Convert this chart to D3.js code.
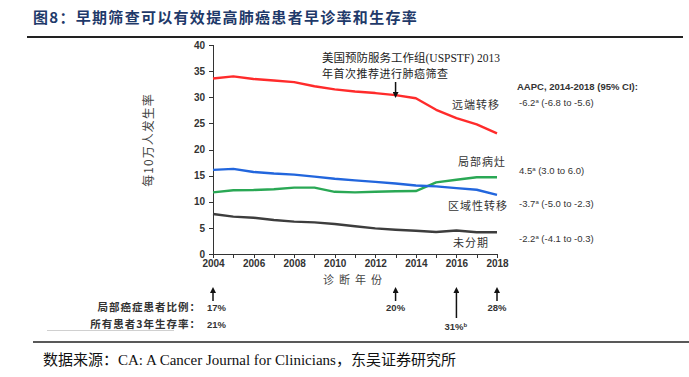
<!DOCTYPE html>
<html lang="zh">

<head>
    <meta charset="UTF-8">
    <title>早期筛查可以有效提高肺癌患者早诊率和生存率</title>
    <style>
        body {
            margin: 0;
            background: #fff;
        }

        svg {
            width: 689px;
            height: 377px;
            display: block;
        }

        .axis text {
            font-family: "Liberation Sans", Arial, sans-serif;
            font-weight: bold;
            font-size: 10px;
            fill: #333;
        }

        .axis path,
        .axis line {
            fill: none;
            stroke: #333;
            shape-rendering: crispEdges;
        }

        .cn {
            font-family: "Noto Sans CJK SC", sans-serif;
        }

        .note {
            font-family: "Liberation Sans", Arial, sans-serif;
            font-size: 9.5px;
            fill: #333;
        }
    </style>
    <script src="https://d3js.org/d3.v7.min.js"></script>
</head>

<body>
    <div id="graph"></div>
    <script>
        // data
        const years = [2004, 2005, 2006, 2007, 2008, 2009, 2010, 2011, 2012, 2013, 2014, 2015, 2016, 2017, 2018];
        const distant = [33.6, 34.0, 33.5, 33.2, 32.9, 32.1, 31.5, 31.1, 30.8, 30.4, 29.8, 27.6, 26.0, 24.8, 23.1];
        const localized = [11.8, 12.2, 12.25, 12.4, 12.7, 12.7, 11.9, 11.8, 11.9, 12.0, 12.05, 13.7, 14.2, 14.7, 14.7];
        const regional = [16.1, 16.3, 15.7, 15.4, 15.2, 14.8, 14.4, 14.1, 13.8, 13.5, 13.1, 12.95, 12.6, 12.3, 11.3];
        const unstaged = [7.65, 7.15, 6.95, 6.5, 6.2, 6.05, 5.75, 5.3, 4.9, 4.65, 4.45, 4.2, 4.5, 4.15, 4.15];
        const yTicks = [0, 5, 10, 15, 20, 25, 30, 35, 40];
        const xTicks = [2004, 2006, 2008, 2010, 2012, 2014, 2016, 2018];
        const seriesNames = ["远端转移", "局部病灶", "区域性转移", "未分期"];
        const aapc = ["-6.2", "4.5", "-3.7", "-2.2"];
        const aapcCI = ["(-6.8 to -5.6)", "(3.0 to 6.0)", "(-5.0 to -2.3)", "(-4.1 to -0.3)"];
        const markYears = [2004, 2013, 2016, 2018];
        const localShare = ["17%", "20%", null, "28%"];
        const survival3y = ["21%", null, "31%", null];

        const width = 689;
        const height = 377;
        const margins = { top: 45, bottom: 123, left: 213, right: 192 };

        const svg = d3.select("#graph").append("svg")
            .attr("viewBox", `0 0 ${width} ${height}`);

        // title and rules
        svg.append("text")
            .attr("x", 33).attr("y", 23)
            .attr("class", "cn")
            .attr("font-size", 15).attr("font-weight", "bold")
            .attr("letter-spacing", 1.3)
            .attr("fill", "#1f3a6a")
            .text("图8：早期筛查可以有效提高肺癌患者早诊率和生存率");

        svg.append("line")
            .attr("x1", 27).attr("x2", 683).attr("y1", 37).attr("y2", 37)
            .attr("stroke", "#222").attr("stroke-width", 2);

        svg.append("line")
            .attr("x1", 33).attr("x2", 689).attr("y1", 342).attr("y2", 342)
            .attr("stroke", "#222").attr("stroke-width", 1.5);

        svg.append("text")
            .attr("x", 43).attr("y", 365)
            .attr("font-size", 15).attr("fill", "#111")
            .attr("font-family", "'Liberation Serif', 'Noto Sans CJK SC', serif")
            .text("数据来源：CA: A Cancer Journal for Clinicians，东吴证券研究所");

        const xScale = d3.scaleLinear()
            .domain([2004, 2018])
            .range([margins.left, width - margins.right]);

        const yScale = d3.scaleLinear()
            .domain([0, 40])
            .range([height - margins.bottom, margins.top]);

        const x0 = height - margins.bottom;

        svg.append("g")
            .attr("class", "axis")
            .attr("transform", `translate(0, ${x0})`)
            .call(d3.axisBottom(xScale).tickValues(years).tickSize(4).tickPadding(2)
                .tickFormat(d => xTicks.includes(d) ? d : ""));

        svg.append("g")
            .attr("class", "axis")
            .attr("transform", `translate(${margins.left}, 0)`)
            .call(d3.axisLeft(yScale).tickValues(yTicks).tickSize(4).tickPadding(4));

        // axis titles
        svg.append("text")
            .attr("class", "cn")
            .attr("transform", `translate(153, 140) rotate(-90)`)
            .attr("text-anchor", "middle")
            .attr("font-size", 12).attr("fill", "#444")
            .attr("letter-spacing", 1)
            .text("每10万人发生率");

        svg.append("text")
            .attr("class", "cn")
            .attr("x", xScale(2011)).attr("y", 284)
            .attr("text-anchor", "middle")
            .attr("font-size", 11).attr("fill", "#444")
            .attr("letter-spacing", 5)
            .text("诊断年份");

        // lines
        const lineData = [
            { values: distant, color: "#ff2b2b" },
            { values: localized, color: "#2aa855" },
            { values: regional, color: "#2266dd" },
            { values: unstaged, color: "#3d3d3d" }
        ];

        const lineGen = d3.line()
            .x((d, i) => xScale(years[i]))
            .y(d => yScale(d));

        svg.selectAll(".series")
            .data(lineData)
            .enter().append("path")
            .attr("class", "series")
            .attr("fill", "none")
            .attr("stroke", d => d.color)
            .attr("stroke-width", 2.4)
            .attr("stroke-linejoin", "round")
            .attr("d", d => lineGen(d.values));

        // series labels
        const labelPos = [
            { x: 452, y: 109 },
            { x: 458, y: 166 },
            { x: 448, y: 210 },
            { x: 453, y: 247 }
        ];
        svg.selectAll(".slabel")
            .data(seriesNames)
            .enter().append("text")
            .attr("class", "slabel cn")
            .attr("x", (d, i) => labelPos[i].x)
            .attr("y", (d, i) => labelPos[i].y)
            .attr("font-size", 11).attr("fill", "#333")
            .attr("letter-spacing", 1)
            .text(d => d);

        // USPSTF annotation
        svg.append("text")
            .attr("x", 322).attr("y", 62)
            .attr("font-size", 11.5).attr("fill", "#222")
            .attr("font-family", "'Liberation Serif', 'Noto Sans CJK SC', serif")
            .text("美国预防服务工作组(USPSTF) 2013");
        svg.append("text")
            .attr("class", "cn")
            .attr("x", 322).attr("y", 78)
            .attr("font-size", 11).attr("fill", "#222")
            .attr("letter-spacing", 0.5)
            .text("年首次推荐进行肺癌筛查");

        svg.append("defs").append("marker")
            .attr("id", "head")
            .attr("viewBox", "0 0 10 10")
            .attr("refX", 5).attr("refY", 5)
            .attr("markerWidth", 4).attr("markerHeight", 4)
            .attr("orient", "auto")
            .append("path").attr("d", "M0,0 L10,5 L0,10 z").attr("fill", "#111");

        svg.append("line")
            .attr("x1", xScale(2013)).attr("x2", xScale(2013))
            .attr("y1", 82).attr("y2", 95)
            .attr("stroke", "#111").attr("stroke-width", 1.5)
            .attr("marker-end", "url(#head)");

        // AAPC column
        svg.append("text")
            .attr("class", "note")
            .attr("x", 517).attr("y", 90)
            .attr("font-weight", "bold")
            .text("AAPC, 2014-2018 (95% CI):");

        const aapcY = [106, 174, 207, 242];
        const aapcText = svg.selectAll(".aapc")
            .data(aapc)
            .enter().append("text")
            .attr("class", "aapc note")
            .attr("x", 519)
            .attr("y", (d, i) => aapcY[i]);
        aapcText.append("tspan").text(d => d);
        aapcText.append("tspan").attr("font-size", 6).attr("dy", -3).text("a");
        aapcText.append("tspan").attr("dy", 3).text((d, i) => " " + aapcCI[i]);

        // bottom arrows and percentages
        svg.selectAll(".up")
            .data(markYears)
            .enter().append("line")
            .attr("class", "up")
            .attr("x1", d => xScale(d)).attr("x2", d => xScale(d))
            .attr("y1", d => d === 2016 ? 318 : 301)
            .attr("y2", 290)
            .attr("stroke", "#111").attr("stroke-width", 1.5)
            .attr("marker-end", "url(#head)");

        svg.append("text")
            .attr("class", "cn")
            .attr("x", 201).attr("y", 311)
            .attr("text-anchor", "end")
            .attr("font-size", 10.5).attr("font-weight", "bold").attr("fill", "#333")
            .attr("letter-spacing", 1)
            .text("局部癌症患者比例：");
        svg.append("text")
            .attr("class", "cn")
            .attr("x", 201).attr("y", 328)
            .attr("text-anchor", "end")
            .attr("font-size", 10.5).attr("font-weight", "bold").attr("fill", "#333")
            .attr("letter-spacing", 1)
            .text("所有患者3年生存率：");

        svg.selectAll(".share")
            .data(localShare)
            .enter().filter(d => d !== null).append("text")
            .attr("class", "share note")
            .attr("font-weight", "bold")
            .attr("x", (d, i) => i === 0 ? 207 : xScale(markYears[localShare.indexOf(d)]))
            .attr("y", 311)
            .attr("text-anchor", (d, i) => i === 0 ? "start" : "middle")
            .text(d => d);

        svg.append("text")
            .attr("class", "note").attr("font-weight", "bold")
            .attr("x", 207).attr("y", 328)
            .text(survival3y[0]);

        const surv = svg.append("text")
            .attr("class", "note").attr("font-weight", "bold")
            .attr("x", xScale(2016) - 12).attr("y", 330);
        surv.append("tspan").text(survival3y[2]);
        surv.append("tspan").attr("font-size", 6).attr("dy", -3).text("b");

        // thin frame remnant under the row labels
        svg.append("line")
            .attr("x1", 47).attr("x2", 174).attr("y1", 330.5).attr("y2", 330.5)
            .attr("stroke", "#bbb").attr("stroke-width", 0.7);
    </script>
</body>

</html>
